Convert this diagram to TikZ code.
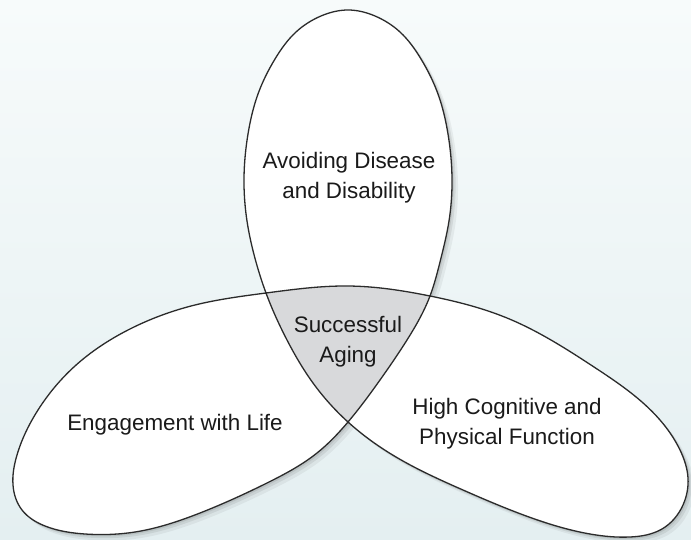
\documentclass[tikz,border=0pt]{standalone}
\usepackage{fontspec}
\setmainfont{Liberation Sans}
\usepackage{tikz}
\usetikzlibrary{hobby}
\definecolor{bgtop}{HTML}{F7FBFB}
\definecolor{bgbottom}{HTML}{E4EFF1}
\definecolor{coregray}{HTML}{D8D9DB}
\definecolor{edgegray}{HTML}{2B2B2B}
\definecolor{textgray}{HTML}{1A1A1A}
\tikzset{
    lobetext/.style={align=center, text=textgray, font=\fontsize{11.2}{15}\selectfont},
    lobeedge/.style={draw=edgegray, line width=0.65pt, fill=white, even odd rule,
        preaction={fill=black, opacity=0.05, nonzero rule, transform canvas={xshift=3pt, yshift=-3pt}},
        preaction={fill=black, opacity=0.07, nonzero rule, transform canvas={xshift=1.8pt, yshift=-1.8pt}},
        preaction={fill=black, opacity=0.08, nonzero rule, transform canvas={xshift=0.9pt, yshift=-0.9pt}},
        preaction={fill=coregray, nonzero rule}}
}

\begin{document}
\begin{tikzpicture}[x=0.5pt, y=-0.5pt]
    \useasboundingbox (0,0) rectangle (691,540);
    \shade[top color=bgtop, bottom color=bgbottom] (0,0) rectangle (691,540);

    \draw[lobeedge, use Hobby shortcut, closed=true]
        (348,422) .. (396,457) .. (463,490) .. (529,517) .. (590,534) .. (630,537)
        .. (662,529) .. (683,505) .. (688,478) .. (680,450) .. (660,420)
        .. (594,367) .. (507,318) .. (430,296) .. (348,286) .. (266,293)
        .. (195,305) .. (128,330) .. (75,366) .. (38,410) .. (17,455)
        .. (13,485) .. (22,510) .. (45,526) .. (85,534) .. (135,532)
        .. (200,513) .. (267,483) .. (317,453)
        .. (348,422) .. (380,380) .. (407,340) .. (430,296) .. (440,262)
        .. (449,221) .. (452,178) .. (448,134) .. (438,94) .. (421,59)
        .. (400,32) .. (375,16) .. (348,10) .. (321,16) .. (296,32)
        .. (275,59) .. (258,94) .. (248,134) .. (244,178) .. (247,221)
        .. (256,262) .. (266,293) .. (287,340) .. (313,383);

    \node[lobetext] (health) at (349,178) {Avoiding Disease\\and Disability};
    \node[lobetext] (success) at (348,342) {Successful\\Aging};
    \node[lobetext] (engage) at (175,425) {Engagement with Life};
    \node[lobetext] (function) at (507,424) {High Cognitive and\\Physical Function};
\end{tikzpicture}
\end{document}
